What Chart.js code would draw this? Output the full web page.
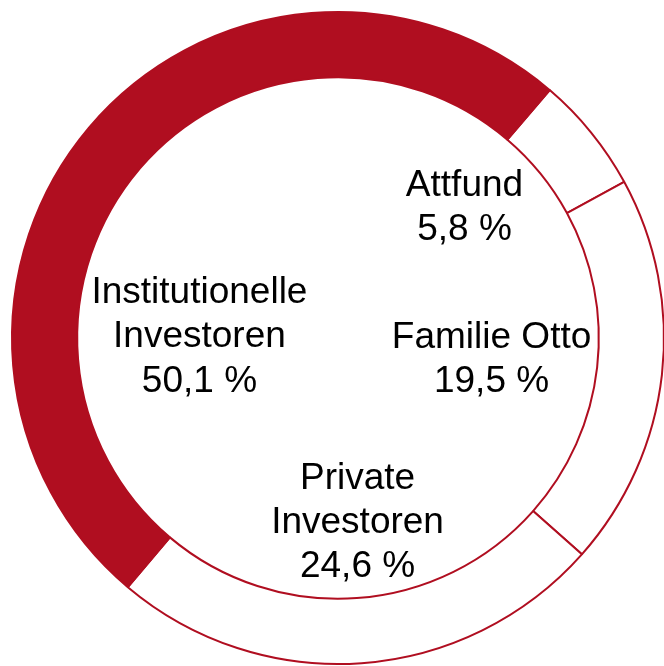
<!DOCTYPE html>
<html>
<head>
<meta charset="utf-8">
<script src="https://cdn.jsdelivr.net/npm/chart.js@4/dist/chart.umd.min.js"></script>
<style>
  html, body { margin: 0; padding: 0; background: #fff; overflow: hidden; }
  #wrap { position: absolute; left: 0; top: 0; width: 676px; height: 676px; }
</style>
</head>
<body>
<div id="wrap"><canvas id="chart"></canvas></div>
<script>
// shareholder structure, clockwise starting at upper right
const categories = [
  ["Attfund"],
  ["Familie Otto"],
  ["Private", "Investoren"],
  ["Institutionelle", "Investoren"],
];
const shares = [5.8, 19.5, 24.6, 50.1];

const RED = "#b00e20";
const fills = ["#ffffff", "#ffffff", "#ffffff", RED];

// label anchor (first baseline) relative to centre, in units of outer radius
const labelAnchors = [
  [0.388, -0.437],
  [0.471, 0.031],
  [0.06, 0.462],
  [-0.425, -0.107],
];

const fmt = (v) => v.toFixed(1).replace(".", ",") + " %";

const ringLabels = {
  id: "ringLabels",
  afterDatasetsDraw(chart) {
    const ctx = chart.ctx;
    const arcs = chart.getDatasetMeta(0).data;
    const cx = arcs[0].x, cy = arcs[0].y, r = arcs[0].outerRadius;
    ctx.save();
    ctx.fillStyle = "#000";
    ctx.font = "37px 'Liberation Sans', Arial, sans-serif";
    ctx.textAlign = "center";
    ctx.textBaseline = "alphabetic";
    categories.forEach((lines, i) => {
      const all = lines.concat([fmt(shares[i])]);
      const x = cx + labelAnchors[i][0] * r;
      let y = cy + labelAnchors[i][1] * r;
      all.forEach((t) => {
        ctx.fillText(t, x, y);
        y += 44.3;
      });
    });
    ctx.restore();
  },
};

new Chart(document.getElementById("chart"), {
  type: "doughnut",
  data: {
    labels: categories.map((c) => c.join(" ")),
    datasets: [
      {
        data: shares,
        backgroundColor: fills,
        borderColor: RED,
        borderWidth: 2,
        hoverOffset: 0,
      },
    ],
  },
  options: {
    responsive: true,
    maintainAspectRatio: false,
    animation: false,
    rotation: 40.5,
    cutout: "80%",
    layout: { padding: 11 },
    plugins: {
      legend: { display: false },
      tooltip: { enabled: false },
    },
  },
  plugins: [ringLabels],
});
</script>
</body>
</html>
